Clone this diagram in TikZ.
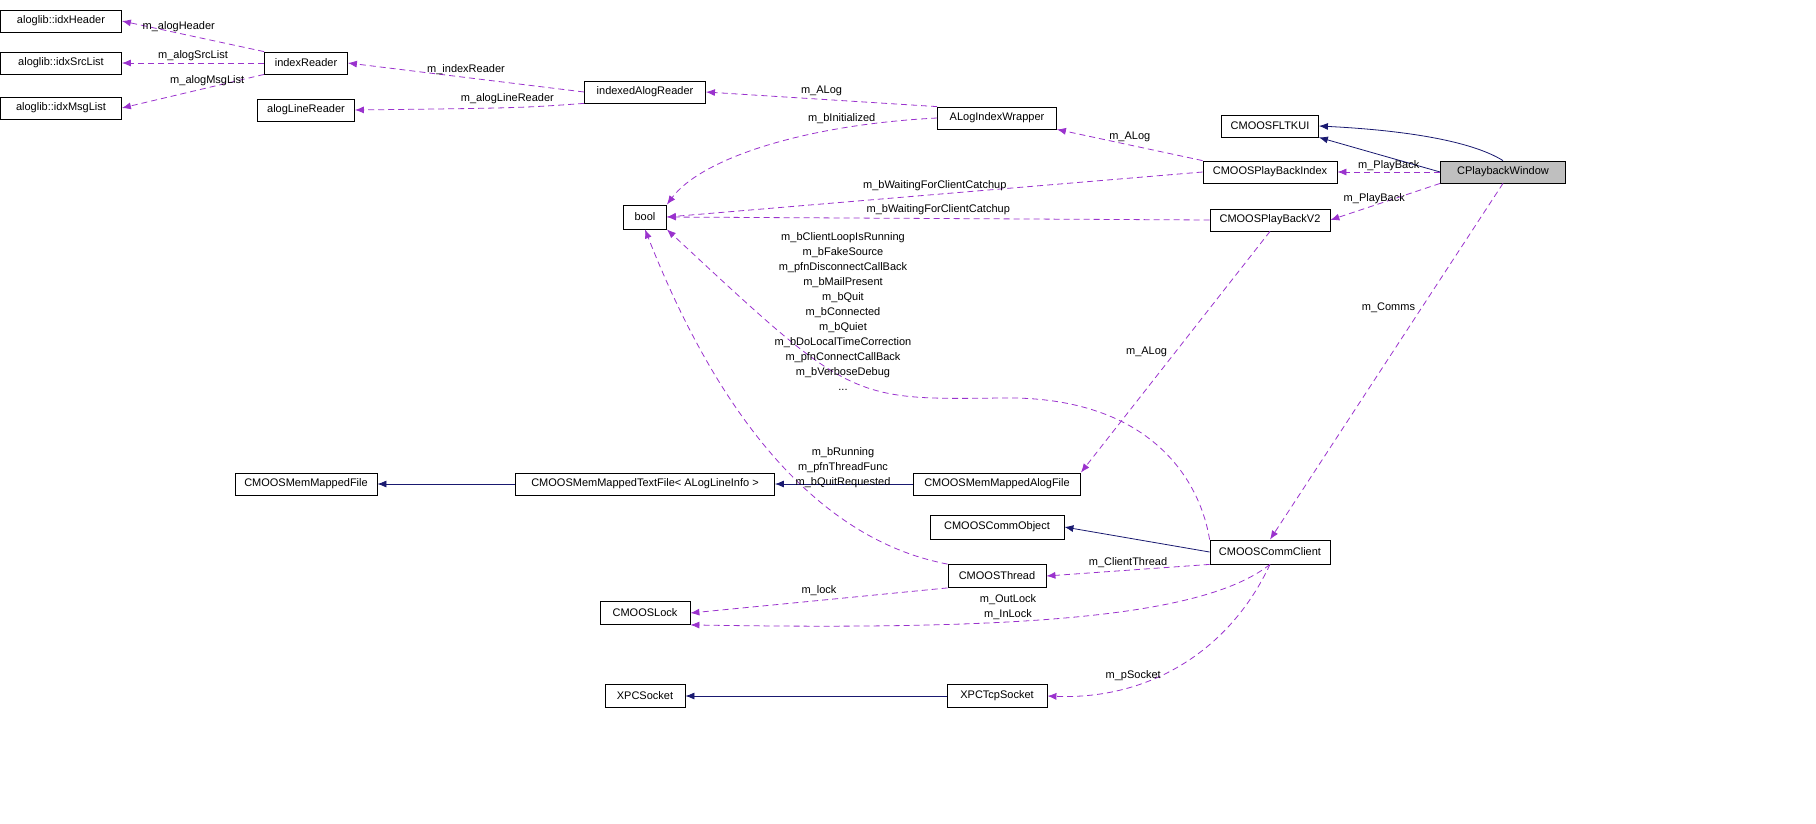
\documentclass[tikz,border=0pt]{standalone}
\usepackage{fontspec}
\setmainfont{Liberation Sans}
\usetikzlibrary{arrows.meta}
\definecolor{dorch}{HTML}{9A32CD}
\definecolor{mnavy}{HTML}{191970}
\begin{document}
\begin{tikzpicture}[x=1pt,y=-1pt,
  box/.style={draw,thick,inner sep=0pt,minimum height=22,font=\fontsize{11}{12}\selectfont},
  gbox/.style={box,fill=black!25},
  mem/.style={draw=dorch,thick,-{Latex[length=9,width=7]},dash pattern=on 6pt off 4pt},
  inh/.style={draw=mnavy,thick,-{Latex[length=9,width=7]}},
  lab/.style={font=\fontsize{11}{15}\selectfont,align=center,inner sep=0pt}]
\useasboundingbox (0,0) rectangle (1816,823);
\node[box,minimum width=121] (ih) at (61,21) {aloglib::idxHeader};
\node[box,minimum width=121] (isl) at (61,63) {aloglib::idxSrcList};
\node[box,minimum width=121] (iml) at (61,108) {aloglib::idxMsgList};
\node[box,minimum width=83] (ir) at (306,63) {indexReader};
\node[box,minimum width=97] (alr) at (306,110) {alogLineReader};
\node[box,minimum width=121] (iar) at (645,92) {indexedAlogReader};
\node[box,minimum width=119] (aiw) at (997,118) {ALogIndexWrapper};
\node[box,minimum width=97] (fltk) at (1270,126) {CMOOSFLTKUI};
\node[box,minimum width=134] (pbi) at (1270,172) {CMOOSPlayBackIndex};
\node[gbox,minimum width=125] (pw) at (1503,172) {CPlaybackWindow};
\node[box,minimum width=43,minimum height=24] (bool) at (645,217) {bool};
\node[box,minimum width=120] (pbv) at (1270,220) {CMOOSPlayBackV2};
\node[box,minimum width=142] (mmf) at (306,484) {CMOOSMemMappedFile};
\node[box,minimum width=259] (mmtf) at (645,484) {CMOOSMemMappedTextFile< ALogLineInfo >};
\node[box,minimum width=167] (mmaf) at (997,484) {CMOOSMemMappedAlogFile};
\node[box,minimum width=134,minimum height=24] (co) at (997,527) {CMOOSCommObject};
\node[box,minimum width=120,minimum height=24] (cc) at (1270,552) {CMOOSCommClient};
\node[box,minimum width=98,minimum height=23] (th) at (997,576) {CMOOSThread};
\node[box,minimum width=90,minimum height=23] (lock) at (645,613) {CMOOSLock};
\node[box,minimum width=80,minimum height=23] (xs) at (645,696) {XPCSocket};
\node[box,minimum width=100,minimum height=23] (xts) at (997,696) {XPCTcpSocket};

\draw[mem] (ir.north west) -- node[lab,above=1pt,pos=0.6]{m\_alogHeader} (ih.east);
\draw[mem] (ir.west) -- node[lab,above=2pt]{m\_alogSrcList} (isl.east);
\draw[mem] (ir.south west) -- node[lab,above=2pt,pos=0.4]{m\_alogMsgList} (iml.east);
\draw[mem] (iar.west) -- node[lab,above=2pt]{m\_indexReader} (ir.east);
\draw[mem] (iar.south west) .. controls (520,108) .. node[lab,above=3pt]{m\_alogLineReader} (alr.east);
\draw[mem] (aiw.north west) -- node[lab,above=3pt]{m\_ALog} (iar.east);
\draw[mem] (aiw.west) .. controls (800,125) and (700,160) .. node[lab,above=4pt,pos=0.25]{m\_bInitialized} (bool.north east);
\draw[mem] (pbi.north west) -- node[lab,above=3pt]{m\_ALog} (aiw.south east);
\draw[mem] (pbi.west) -- node[lab,above=3pt]{m\_bWaitingForClientCatchup} (bool.east);
\draw[inh] (pw.north) .. controls (1470,140) and (1400,130) .. (fltk.east);
\draw[inh] (pw.west) -- (fltk.south east);
\draw[mem] (pw.west) -- node[lab,above=1pt]{m\_PlayBack} (pbi.east);
\draw[mem] (pw.south west) -- node[lab,above=1pt,pos=0.6]{m\_PlayBack} (pbv.east);
\draw[mem] (pw.south) -- node[lab,left=6pt,pos=0.35]{m\_Comms} (cc.north);
\draw[mem] (pbv.west) -- node[lab,above=3pt]{m\_bWaitingForClientCatchup} (bool.east);
\draw[mem] (pbv.south) -- node[lab,left=8pt,pos=0.5]{m\_ALog} (mmaf.north east);
\draw[mem] (cc.north west) .. controls (1200,480) and (1150,395) .. (1000,398) .. controls (850,400) .. (bool.south east);
\node[lab] (cclab) at (843,312) {m\_bClientLoopIsRunning\\m\_bFakeSource\\m\_pfnDisconnectCallBack\\m\_bMailPresent\\m\_bQuit\\m\_bConnected\\m\_bQuiet\\m\_bDoLocalTimeCorrection\\m\_pfnConnectCallBack\\m\_bVerboseDebug\\...};
\draw[inh] (mmaf.west) -- (mmtf.east);
\draw[inh] (mmtf.west) -- (mmf.east);
\draw[mem] (th.north west) .. controls (820,540) and (720,420) .. (bool.south);
\node[lab] (thlab) at (843,468) {m\_bRunning\\m\_pfnThreadFunc\\m\_bQuitRequested};
\draw[inh] (cc.west) -- (co.east);
\draw[mem] (cc.south west) -- node[lab,above=2pt]{m\_ClientThread} (th.east);
\draw[mem] (th.south west) -- node[lab,above=4pt]{m\_lock} (lock.east);
\draw[mem] (cc.south) .. controls (1200,620) and (1000,630) .. node[lab,above=2pt,pos=0.6]{m\_OutLock\\m\_InLock} (lock.south east);
\draw[mem] (cc.south) .. controls (1230,650) and (1150,700) .. node[lab,above=4pt,pos=0.7]{m\_pSocket} (xts.east);
\draw[inh] (xts.west) -- (xs.east);
\end{tikzpicture}
\end{document}
